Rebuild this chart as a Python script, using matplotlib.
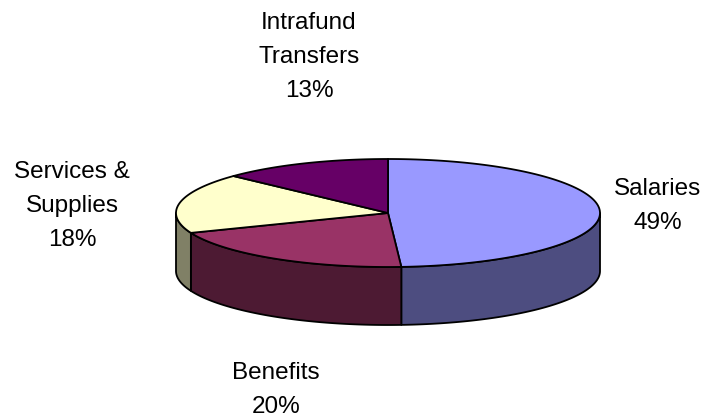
import numpy as np
import matplotlib.pyplot as plt
from matplotlib.patches import Polygon

labels = ['Salaries', 'Benefits', 'Services &\nSupplies', 'Intrafund\nTransfers']
values = [49, 20, 18, 13]
top_colors = ['#9999FF', '#993366', '#FFFFCC', '#660066']
side_colors = ['#4D4D80', '#4D1A33', '#808066', '#330033']
# label centres (pixels) for each slice
label_pos = [(658, 206), (276, 390), (72, 206), (309, 57)]

cx, cy = 388, 213   # centre of top face
rx, ry = 212, 54    # ellipse radii
depth = 58          # thickness of the pie

fig = plt.figure(figsize=(7.07, 4.2), dpi=100)
ax = fig.add_axes([0, 0, 1, 1])
ax.set_xlim(0, 707)
ax.set_ylim(420, 0)
ax.axis('off')


def rim(a1, a2, n=120):
    # points on the ellipse, angle in degrees clockwise from 12 o'clock
    t = np.radians(np.linspace(a1, a2, n))
    return cx + rx * np.sin(t), cy - ry * np.cos(t)


fracs = np.array(values) / np.sum(values)
bounds = np.concatenate([[0], np.cumsum(fracs) * 360])

# side walls, only the front half (90..270 deg) is visible
for i in range(len(values)):
    a1, a2 = max(bounds[i], 90), min(bounds[i + 1], 270)
    if a2 <= a1:
        continue
    x, y = rim(a1, a2)
    px = np.concatenate([x, x[::-1]])
    py = np.concatenate([y, y[::-1] + depth])
    ax.add_patch(Polygon(np.column_stack([px, py]), closed=True,
                         facecolor=side_colors[i], edgecolor='black',
                         linewidth=1.3, joinstyle='round'))

# top face wedges
for i in range(len(values)):
    x, y = rim(bounds[i], bounds[i + 1])
    px = np.concatenate([[cx], x])
    py = np.concatenate([[cy], y])
    ax.add_patch(Polygon(np.column_stack([px, py]), closed=True,
                         facecolor=top_colors[i], edgecolor='black',
                         linewidth=1.3, joinstyle='round'))

for i in range(len(values)):
    txt = '%s\n%d%%' % (labels[i], values[i])
    ax.text(label_pos[i][0], label_pos[i][1], txt, ha='center', va='center',
            fontsize=17.5, family='Liberation Sans', linespacing=1.72,
            color='black')

fig.savefig('out.png', dpi=100, facecolor='white')
